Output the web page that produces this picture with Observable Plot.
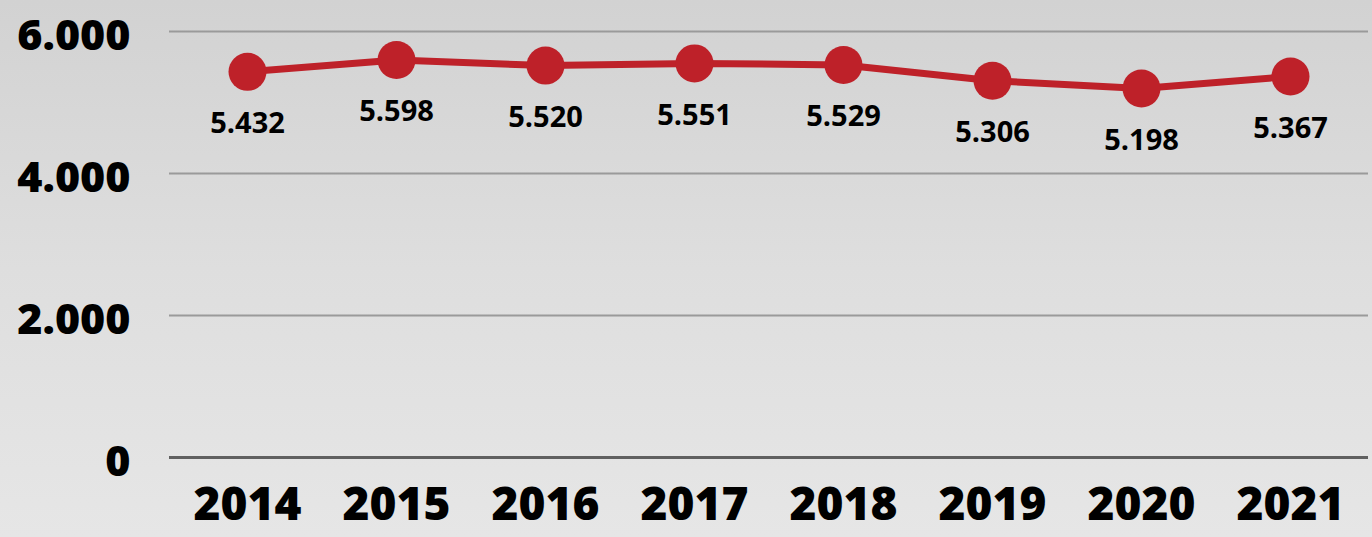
<!DOCTYPE html>
<html>
<head>
<meta charset="utf-8">
<script src="https://cdn.jsdelivr.net/npm/d3@7"></script>
<script src="https://cdn.jsdelivr.net/npm/@observablehq/plot@0.6"></script>
<style>
  html, body { margin: 0; padding: 0; }
  body {
    width: 1372px; height: 537px; overflow: hidden;
    background: linear-gradient(to bottom, #d2d2d2 0%, #dedede 50%, #e6e6e6 100%);
  }
  #chart svg { display: block; background: transparent; }
</style>
</head>
<body>
<div id="chart"></div>
<script>
const years = ["2014", "2015", "2016", "2017", "2018", "2019", "2020", "2021"];
const values = [5432, 5598, 5520, 5551, 5529, 5306, 5198, 5367];
const yTicks = [0, 2000, 4000, 6000];

const data = years.map((year, i) => ({ year, value: values[i] }));
const fmt = d3.formatLocale({ decimal: ",", thousands: ".", grouping: [3], currency: ["", "€"] }).format(",d");
const red = "#BE2129";

const chart = Plot.plot({
  width: 1372,
  height: 537,
  marginTop: 31,
  marginBottom: 80,
  marginLeft: 169,
  marginRight: 4,
  style: { background: "transparent", color: "#000", fontFamily: "'Open Sans', sans-serif" },
  x: { type: "point", domain: years, padding: 0.5, label: null },
  y: { domain: [0, 6000], label: null },
  marks: [
    Plot.gridY(yTicks.filter(d => d > 0), { stroke: "#9a9a9a", strokeOpacity: 1, strokeWidth: 2 }),
    Plot.ruleY([0], { stroke: "#606060", strokeWidth: 3 }),
    Plot.axisY({ ticks: yTicks, tickSize: 0, tickPadding: 39, tickFormat: fmt, fontSize: 43, fontWeight: 800, dy: 5, label: null }),
    Plot.axisX({ tickSize: 0, tickPadding: 30, fontSize: 46, fontWeight: 800, label: null }),
    Plot.line(data, { x: "year", y: "value", stroke: red, strokeWidth: 7 }),
    Plot.dot(data, { x: "year", y: "value", r: 19, fill: red, stroke: "none" }),
    Plot.text(data, { x: "year", y: "value", text: d => fmt(d.value), dy: 52, fontSize: 29, fontWeight: 700, fill: "#000" })
  ]
});
document.getElementById("chart").append(chart);
</script>
</body>
</html>
